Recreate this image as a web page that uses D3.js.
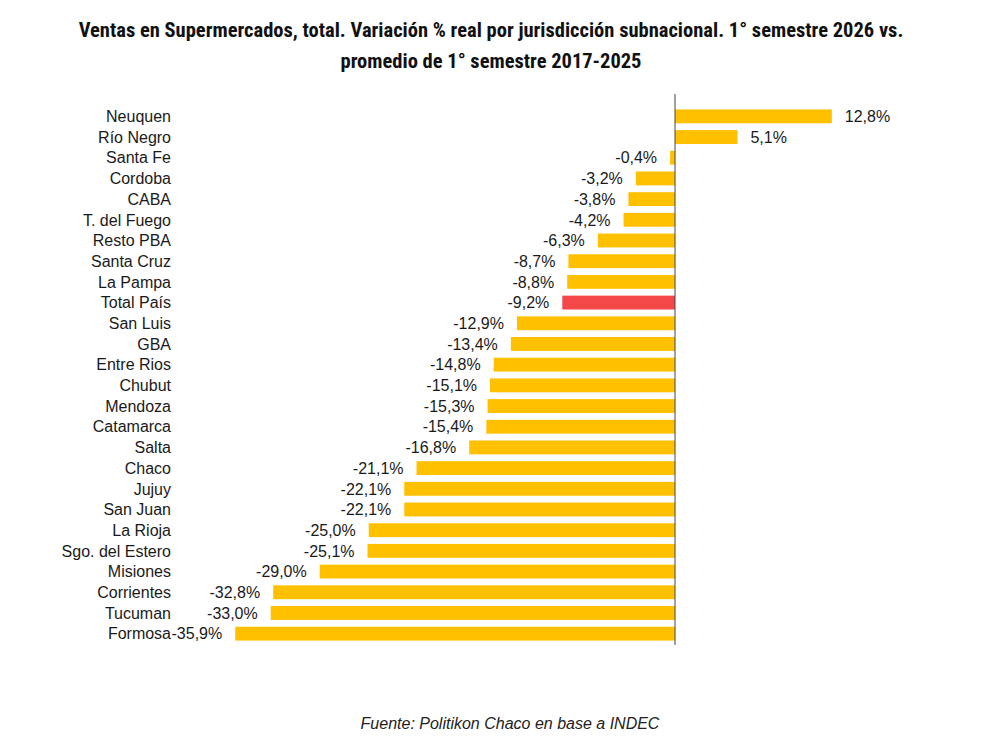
<!DOCTYPE html>
<html><head><meta charset="utf-8">
<script src="https://cdn.jsdelivr.net/npm/d3@7"></script>
<style>body{margin:0;background:#fff}svg{display:block}</style>
</head><body>
<svg id="c" width="992" height="755"></svg>
<script>
const categories = ["Neuquen","Río Negro","Santa Fe","Cordoba","CABA","T. del Fuego","Resto PBA","Santa Cruz","La Pampa","Total País","San Luis","GBA","Entre Rios","Chubut","Mendoza","Catamarca","Salta","Chaco","Jujuy","San Juan","La Rioja","Sgo. del Estero","Misiones","Corrientes","Tucuman","Formosa"];
const values = [12.8,5.1,-0.4,-3.2,-3.8,-4.2,-6.3,-8.7,-8.8,-9.2,-12.9,-13.4,-14.8,-15.1,-15.3,-15.4,-16.8,-21.1,-22.1,-22.1,-25.0,-25.1,-29.0,-32.8,-33.0,-35.9];
const highlight = "Total País";
const titleLines = ["Ventas en Supermercados, total. Variación % real por jurisdicción subnacional. 1° semestre 2026 vs.","promedio de 1° semestre 2017-2025"];
const source = "Fuente: Politikon Chaco en base a INDEC";

const data = categories.map((c,i)=>({c, v:values[i]}));
const svg = d3.select("#c");
const x = d3.scaleLinear().domain([-40,15]).range([185,858.75]);
const y = d3.scaleBand().domain(categories).range([106,644]).paddingInner(0.33).paddingOuter(0.165);
const fmt = v => d3.format(".1f")(v).replace(".",",").replace("−","-") + "%";

const title = svg.append("g").attr("font-family","'Roboto Condensed','Liberation Sans Narrow','Liberation Sans',Arial,sans-serif")
  .attr("font-weight","bold").attr("font-size",20.5).attr("fill","#111").attr("text-anchor","middle");
title.selectAll("text").data(titleLines).join("text")
  .attr("x",491).attr("y",(d,i)=>37+i*31).text(d=>d);

svg.append("g").selectAll("rect").data(data).join("rect")
  .attr("x",d=>x(Math.min(0,d.v))).attr("width",d=>Math.abs(x(d.v)-x(0)))
  .attr("y",d=>y(d.c)).attr("height",y.bandwidth())
  .attr("fill",d=>d.c===highlight?"#F44848":"#FFC000");

svg.append("line").attr("x1",x(0)).attr("x2",x(0)).attr("y1",94).attr("y2",645)
  .attr("stroke","#444").attr("stroke-width",1);

const font = "'Liberation Sans',Arial,sans-serif";
svg.append("g").selectAll("text").data(data).join("text")
  .attr("x",171).attr("y",d=>y(d.c)+y.bandwidth()/2).attr("dy","0.36em")
  .attr("text-anchor","end").attr("font-family",font).attr("font-size",16).attr("fill","#1a1a1a")
  .text(d=>d.c);

svg.append("g").selectAll("text").data(data).join("text")
  .attr("x",d=>d.v>=0? x(d.v)+13 : x(d.v)-13).attr("y",d=>y(d.c)+y.bandwidth()/2).attr("dy","0.36em")
  .attr("text-anchor",d=>d.v>=0?"start":"end").attr("font-family",font).attr("font-size",16).attr("fill","#1a1a1a")
  .text(d=>fmt(d.v));

svg.append("text").attr("x",510).attr("y",729).attr("text-anchor","middle")
  .attr("font-family","'Liberation Sans',Arial,sans-serif").attr("font-style","italic")
  .attr("font-size",16).attr("fill","#222").text(source);
</script>
</body></html>
